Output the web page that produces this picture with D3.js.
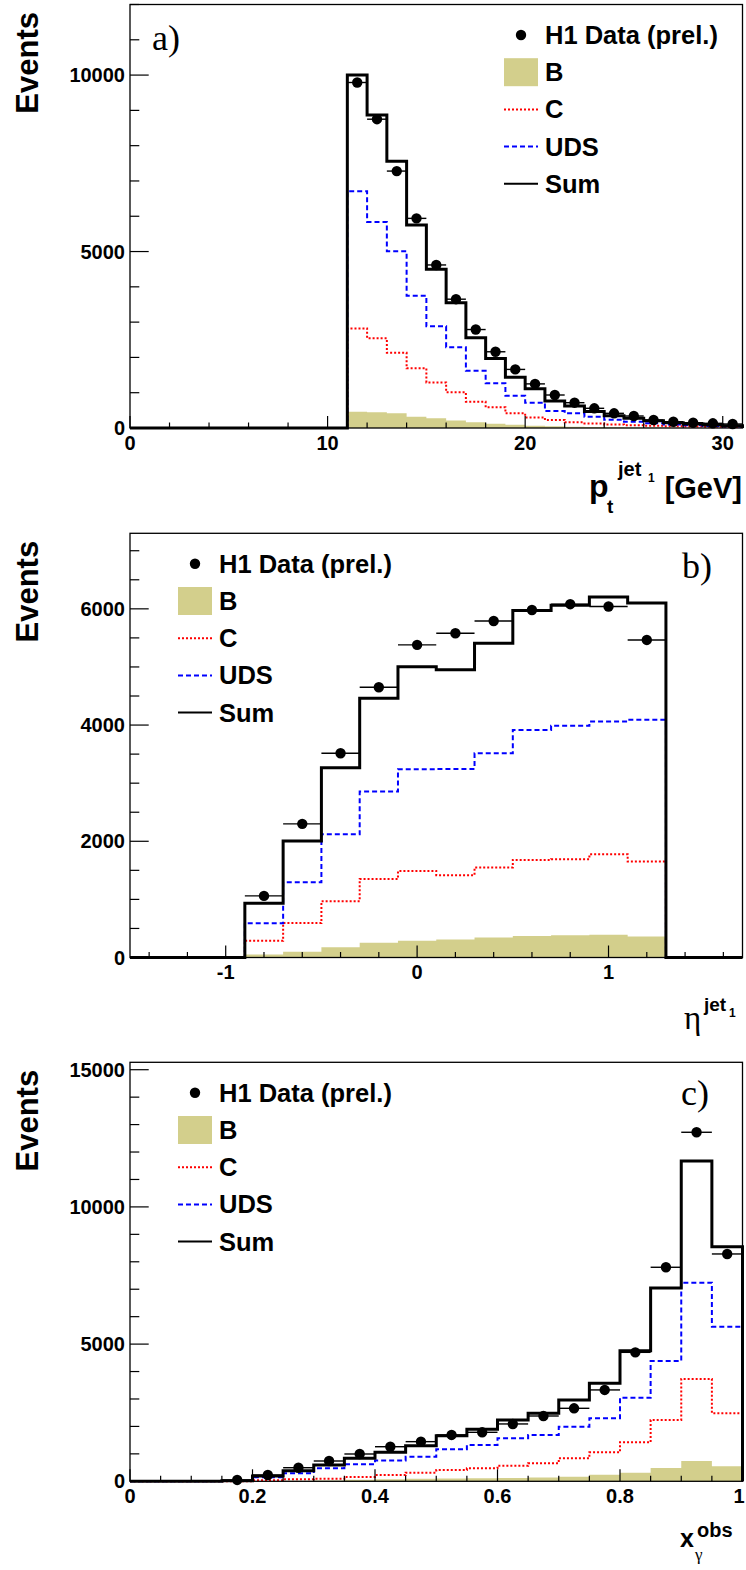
<!DOCTYPE html>
<html>
<head>
<meta charset="utf-8">
<script src="https://cdn.jsdelivr.net/npm/d3@7"></script>
<style>
  html, body { margin: 0; padding: 0; background: #fff; }
  svg { display: block; }
  .sans { font-family: "Liberation Sans", Arial, Helvetica, sans-serif; font-weight: bold; }
  .serif { font-family: "Liberation Serif", "Times New Roman", serif; }
</style>
</head>
<body>
<svg id="chart" width="746" height="1570"></svg>
<script>
// ---------------- DATA ----------------
const legendLabels = ["H1 Data (prel.)", "B", "C", "UDS", "Sum"];

// Panel a) leading jet pt [GeV], bins of width 1 starting at these low edges
const ptBinLow = [11,12,13,14,15,16,17,18,19,20,21,22,23,24,25,26,27,28,29,30];
const ptBinWidth = 1;
const ptData = [9790,8750,7280,5940,4620,3650,2790,2160,1660,1250,935,717,558,416,340,227,178,150,133,113];
const ptSum  = [10000,8870,7560,5750,4500,3550,2560,1970,1440,1110,765,620,465,350,275,207,150,113,85,65];
const ptUDS  = [6710,5840,5010,3750,2880,2290,1620,1270,915,717,482,416,320,235,180,135,100,75,55,40];
const ptC    = [2820,2540,2130,1690,1290,1010,745,585,415,300,225,160,130,100,80,62,50,40,32,26];
const ptB    = [460,445,415,320,275,210,165,120,90,62,48,36,28,22,17,13,10,8,6,5];
const ptXTicks = [0,10,20,30];
const ptXTickLabels = ["0","10","20","30"];
const ptYTicks = [0,5000,10000];
const ptYTickLabels = ["0","5000","10000"];

// Panel b) leading jet pseudorapidity, bins of width 0.2
const etaBinLow = [-0.9,-0.7,-0.5,-0.3,-0.1,0.1,0.3,0.5,0.7,0.9,1.1];
const etaBinWidth = 0.2;
const etaData = [1060,2300,3515,4650,5380,5580,5790,5980,6080,6040,5465];
const etaSum  = [935,2005,3265,4460,5005,4950,5410,5970,6060,6205,6100];
const etaUDS  = [590,1295,2120,2855,3240,3245,3515,3915,3990,4060,4090];
const etaC    = [290,595,970,1350,1490,1415,1550,1680,1690,1775,1650];
const etaB    = [50,100,175,255,290,310,345,370,385,390,360];
const etaXTicks = [-1,0,1];
const etaXTickLabels = ["-1","0","1"];
const etaYTicks = [0,2000,4000,6000];
const etaYTickLabels = ["0","2000","4000","6000"];

// Panel c) x_gamma^obs, bins of width 0.05
const xgBinLow = [0.15,0.20,0.25,0.30,0.35,0.40,0.45,0.50,0.55,0.60,0.65,0.70,0.75,0.80,0.85,0.90,0.95];
const xgBinWidth = 0.05;
const xgData = [50,230,495,740,995,1260,1445,1690,1785,2090,2380,2660,3330,4700,7800,12720,8285];
const xgSum  = [20,195,385,595,840,1055,1300,1660,1895,2235,2480,2965,3570,4760,7045,11675,8550];
const xgUDS  = [14,150,290,475,620,760,895,1165,1325,1565,1690,1990,2295,3045,4385,7240,5635];
const xgC    = [4,35,75,90,160,230,315,410,475,570,655,840,1055,1420,2235,3730,2480];
const xgB    = [2,10,20,30,60,75,90,100,110,120,140,170,240,315,485,740,545];
const xgXTicks = [0,0.2,0.4,0.6,0.8,1];
const xgXTickLabels = ["0","0.2","0.4","0.6","0.8","1"];
const xgYTicks = [0,5000,10000,15000];
const xgYTickLabels = ["0","5000","10000","15000"];

// ---------------- DRAWING ----------------
const svg = d3.select("#chart");
const colB = "#d3cf8c", colC = "#ff0000", colUDS = "#0000ff";

function drawPanel(o) {
  const g = svg.append("g");
  const x = d3.scaleLinear().domain(o.xDomain).range([o.left, o.right]);
  const y = d3.scaleLinear().domain(o.yDomain).range([o.bottom, o.top]);

  // B filled histogram
  const bPts = [];
  o.binLow.forEach((lo, i) => { bPts.push([lo, o.B[i]]); bPts.push([lo + o.binW, o.B[i]]); });
  g.append("path")
    .attr("d", d3.area().x(d => x(d[0])).y0(y(0)).y1(d => y(d[1]))(bPts))
    .attr("fill", colB).attr("stroke", "none");

  function stepPts(vals) {
    const pts = [[o.xDomain[0], 0], [o.binLow[0], 0]];
    o.binLow.forEach((lo, i) => { pts.push([lo, vals[i]]); pts.push([lo + o.binW, vals[i]]); });
    const last = o.binLow[o.binLow.length - 1] + o.binW;
    pts.push([last, 0]); pts.push([o.xDomain[1], 0]);
    return pts;
  }
  const line = d3.line().x(d => x(d[0])).y(d => y(d[1]));
  g.append("path").attr("d", line(stepPts(o.C))).attr("fill", "none")
    .attr("stroke", colC).attr("stroke-width", 2).attr("stroke-dasharray", "2,2");
  g.append("path").attr("d", line(stepPts(o.UDS))).attr("fill", "none")
    .attr("stroke", colUDS).attr("stroke-width", 2).attr("stroke-dasharray", "5,3");
  g.append("path").attr("d", line(stepPts(o.Sum))).attr("fill", "none")
    .attr("stroke", "#000").attr("stroke-width", 3).attr("stroke-linejoin", "miter");

  // frame
  g.append("rect").attr("x", o.left).attr("y", o.top)
    .attr("width", o.right - o.left).attr("height", o.bottom - o.top)
    .attr("fill", "none").attr("stroke", "#000").attr("stroke-width", 1.3);

  // Y axis ticks
  const yMinor = d3.range(o.yDomain[0], o.yDomain[1] + 1e-9, o.yMinorStep);
  yMinor.forEach(v => {
    const major = o.yTicks.some(t => Math.abs(t - v) < 1e-6);
    g.append("line").attr("x1", o.left).attr("x2", o.left + (major ? 18.7 : 9.3))
      .attr("y1", y(v)).attr("y2", y(v)).attr("stroke", "#000").attr("stroke-width", 1.2);
  });
  o.yTicks.forEach((t, i) => {
    g.append("text").attr("class", "sans").attr("x", o.left - 5).attr("y", y(t) + 7)
      .attr("text-anchor", "end").attr("font-size", 20).text(o.yTickLabels[i]);
  });
  // X axis ticks
  const nMinor = Math.round((o.xDomain[1] - o.xMinorStart) / o.xMinorStep);
  for (let k = 0; k <= nMinor; k++) {
    const v = o.xMinorStart + k * o.xMinorStep;
    if (v > o.xDomain[1] + 1e-9) break;
    const major = o.xTicks.some(t => Math.abs(t - v) < 1e-6);
    g.append("line").attr("x1", x(v)).attr("x2", x(v))
      .attr("y1", o.bottom).attr("y2", o.bottom - (major ? 12 : 5.5))
      .attr("stroke", "#000").attr("stroke-width", 1.2);
  }
  o.xTicks.forEach((t, i) => {
    // keep the label inside the canvas when the tick sits at the right edge
    const px = Math.min(x(t), 739);
    g.append("text").attr("class", "sans").attr("x", px).attr("y", o.bottom + 21.5)
      .attr("text-anchor", "middle").attr("font-size", 20).text(o.xTickLabels[i]);
  });

  // data points with horizontal bin-width bars
  o.binLow.forEach((lo, i) => {
    g.append("line").attr("x1", x(lo)).attr("x2", x(lo + o.binW))
      .attr("y1", y(o.data[i])).attr("y2", y(o.data[i]))
      .attr("stroke", "#000").attr("stroke-width", 1.4);
    g.append("circle").attr("cx", x(lo + o.binW / 2)).attr("cy", y(o.data[i]))
      .attr("r", 5.2).attr("fill", "#000");
  });

  // Y title
  g.append("text").attr("class", "sans").attr("font-size", 31)
    .attr("transform", `translate(38,${o.top + 7.5}) rotate(-90)`)
    .attr("text-anchor", "end").text("Events");

  // panel label
  g.append("text").attr("class", "serif").attr("font-size", 36)
    .attr("x", o.labelX).attr("y", o.labelY).text(o.label);

  // legend
  const rowY = d => o.top + 30.5 + d * 37.2;
  const lx = o.legX;
  g.append("circle").attr("cx", lx + 17).attr("cy", rowY(0)).attr("r", 5.2).attr("fill", "#000");
  g.append("rect").attr("x", lx).attr("y", rowY(1) - 14).attr("width", 34).attr("height", 28).attr("fill", colB);
  g.append("line").attr("x1", lx).attr("x2", lx + 34).attr("y1", rowY(2)).attr("y2", rowY(2))
    .attr("stroke", colC).attr("stroke-width", 2).attr("stroke-dasharray", "2,2");
  g.append("line").attr("x1", lx).attr("x2", lx + 34).attr("y1", rowY(3)).attr("y2", rowY(3))
    .attr("stroke", colUDS).attr("stroke-width", 2).attr("stroke-dasharray", "5,3");
  g.append("line").attr("x1", lx).attr("x2", lx + 34).attr("y1", rowY(4)).attr("y2", rowY(4))
    .attr("stroke", "#000").attr("stroke-width", 2);
  legendLabels.forEach((t, i) => {
    g.append("text").attr("class", "sans").attr("font-size", 25.5)
      .attr("x", lx + 41).attr("y", rowY(i) + 9).text(t);
  });
  return g;
}

const L = 130, R = 742.5;

drawPanel({
  left: L, right: R, top: 4.5, bottom: 428,
  xDomain: [0, 31], yDomain: [0, 12000], yMinorStep: 1000,
  yTicks: ptYTicks, yTickLabels: ptYTickLabels,
  xTicks: ptXTicks, xTickLabels: ptXTickLabels, xMinorStart: 0, xMinorStep: 2,
  binLow: ptBinLow, binW: ptBinWidth,
  data: ptData, Sum: ptSum, UDS: ptUDS, C: ptC, B: ptB,
  label: "a)", labelX: 152, labelY: 50, legX: 504
});

drawPanel({
  left: L, right: R, top: 533.3, bottom: 957.5,
  xDomain: [-1.5, 1.7], yDomain: [0, 7300], yMinorStep: 500,
  yTicks: etaYTicks, yTickLabels: etaYTickLabels,
  xTicks: etaXTicks, xTickLabels: etaXTickLabels, xMinorStart: -1.4, xMinorStep: 0.2,
  binLow: etaBinLow, binW: etaBinWidth,
  data: etaData, Sum: etaSum, UDS: etaUDS, C: etaC, B: etaB,
  label: "b)", labelX: 682, labelY: 578, legX: 178
});

drawPanel({
  left: L, right: R, top: 1062.3, bottom: 1481.3,
  xDomain: [0, 1], yDomain: [0, 15270], yMinorStep: 1000,
  yTicks: xgYTicks, yTickLabels: xgYTickLabels,
  xTicks: xgXTicks, xTickLabels: xgXTickLabels, xMinorStart: 0, xMinorStep: 0.05,
  binLow: xgBinLow, binW: xgBinWidth,
  data: xgData, Sum: xgSum, UDS: xgUDS, C: xgC, B: xgB,
  label: "c)", labelX: 681, labelY: 1105, legX: 178
});

// X-axis titles
// a) p_t^{jet_1} [GeV]
const ta = svg.append("g").attr("class", "sans");
ta.append("text").attr("x", 589).attr("y", 497).attr("font-size", 32).text("p");
ta.append("text").attr("x", 607).attr("y", 513).attr("font-size", 19).text("t");
ta.append("text").attr("x", 618).attr("y", 476).attr("font-size", 20).text("jet");
ta.append("text").attr("x", 648).attr("y", 482).attr("font-size", 12).text("1");
ta.append("text").attr("x", 742).attr("y", 498).attr("text-anchor", "end").attr("font-size", 29).text("[GeV]");

// b) eta^{jet_1}
svg.append("text").attr("class", "serif").attr("x", 684).attr("y", 1029).attr("font-size", 33).text("η");
svg.append("text").attr("class", "sans").attr("x", 704).attr("y", 1011).attr("font-size", 19).text("jet");
svg.append("text").attr("class", "sans").attr("x", 729).attr("y", 1017).attr("font-size", 12).text("1");

// c) x_gamma^obs
svg.append("text").attr("class", "sans").attr("x", 680).attr("y", 1547).attr("font-size", 25).text("x");
svg.append("text").attr("class", "sans").attr("x", 697).attr("y", 1537).attr("font-size", 20).text("obs");
svg.append("text").attr("class", "serif").attr("x", 695).attr("y", 1560).attr("font-size", 17).text("γ");
</script>
</body>
</html>
